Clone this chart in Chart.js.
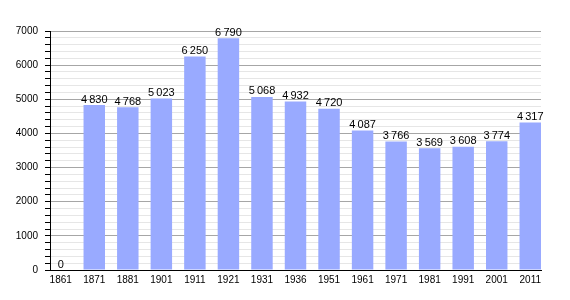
<!DOCTYPE html>
<html>
<head>
<meta charset="utf-8">
<script src="https://cdn.jsdelivr.net/npm/chart.js@4/dist/chart.umd.min.js"></script>
<style>
  html, body { margin: 0; padding: 0; background: #fff; }
  #wrap { width: 570px; height: 300px; }
</style>
</head>
<body>
<div id="wrap"><canvas id="popChart"></canvas></div>
<script>
// Recensements
const years = ["1861", "1871", "1881", "1901", "1911", "1921", "1931", "1936", "1951", "1961", "1971", "1981", "1991", "2001", "2011"];
const population = [0, 4830, 4768, 5023, 6250, 6790, 5068, 4932, 4720, 4087, 3766, 3569, 3608, 3774, 4317];
const yTicksMax = 7000;
const barFrac = 0.64;

function fmt(n) {
    const s = String(n);
    return s.length > 3 ? s.slice(0, -3) + '\u2009' + s.slice(-3) : s;
}

// valeurs au-dessus des barres
const barLabels = {
    id: 'barLabels',
    afterDatasetsDraw(chart) {
        const ctx = chart.ctx;
        const meta = chart.getDatasetMeta(0);
        ctx.save();
        ctx.font = '11px "Liberation Sans", Arial, sans-serif';
        ctx.fillStyle = '#000';
        ctx.textAlign = 'center';
        ctx.textBaseline = 'bottom';
        meta.data.forEach((bar, i) => {
            ctx.fillText(fmt(population[i]), bar.x, bar.y);
        });
        ctx.restore();
    }
};

const axisFont = { family: '"Liberation Sans", Arial, sans-serif', size: 10 };

new Chart(document.getElementById('popChart').getContext('2d'), {
    type: 'bar',
    data: {
        datasets: [{
            data: population.map((v, i) => ({ x: i, y: v })),
            backgroundColor: '#99aaff',
            barPercentage: barFrac,
            categoryPercentage: 1
        }]
    },
    options: {
        responsive: true,
        maintainAspectRatio: false,
        animation: false,
        layout: { padding: { top: 31, right: 29, left: 0, bottom: 0 } },
        plugins: { legend: { display: false }, tooltip: { enabled: false } },
        scales: {
            x: {
                type: 'linear',
                offset: false,
                // barres collées aux extrémités de l'axe
                min: -barFrac / 2,
                max: years.length - 1 + barFrac / 2,
                grid: { display: false, drawTicks: false },
                border: { color: '#000', width: 1 },
                afterBuildTicks: (s) => { s.ticks = years.map((_, i) => ({ value: i })); },
                ticks: {
                    autoSkip: false,
                    maxRotation: 0,
                    color: '#000',
                    padding: 4,
                    font: axisFont,
                    callback: (v) => years[v]
                },
                afterFit: (s) => { s.height = 30; }
            },
            y: {
                min: 0,
                max: yTicksMax,
                ticks: {
                    stepSize: 200,
                    autoSkip: false,
                    color: '#000',
                    padding: 7,
                    font: axisFont,
                    callback: (v) => v % 1000 === 0 ? String(v) : ''
                },
                grid: {
                    color: (c) => c.tick && c.tick.value % 1000 === 0 ? '#a6a6a6' : '#e6e6e6',
                    tickColor: '#000',
                    tickLength: 5
                },
                border: { color: '#000', width: 1 },
                afterFit: (s) => { s.width = 50; }
            }
        }
    },
    plugins: [barLabels]
});
</script>
</body>
</html>
